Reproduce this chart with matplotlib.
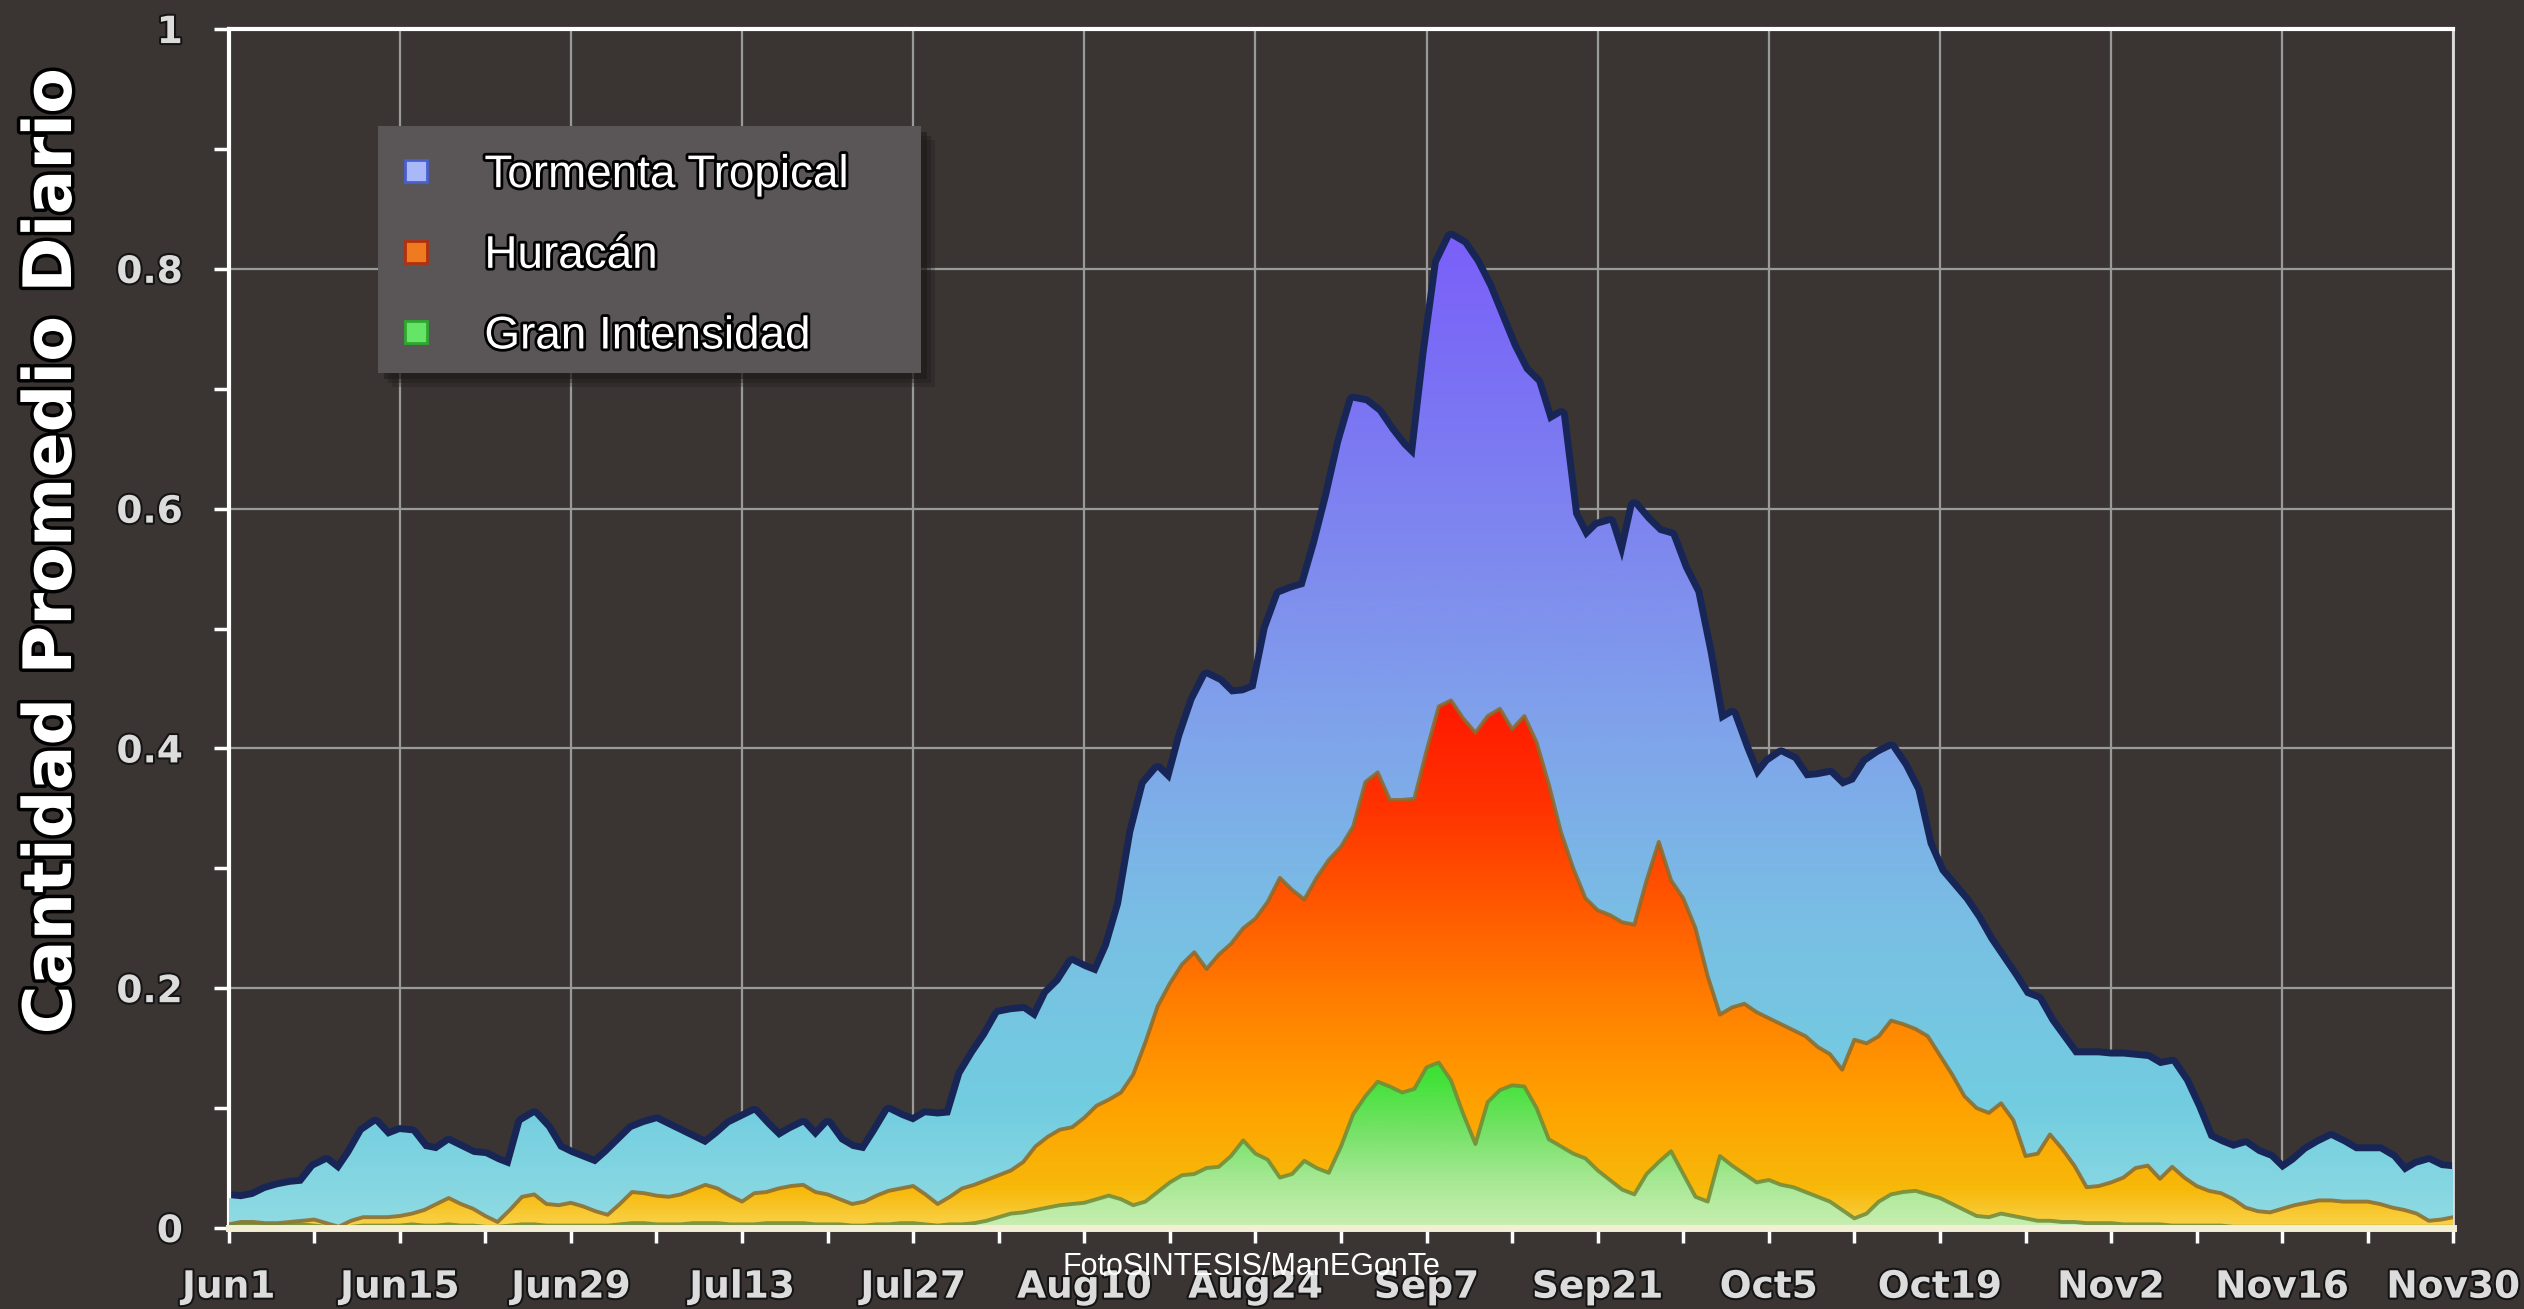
import numpy as np
import matplotlib
matplotlib.use('Agg')
import matplotlib.pyplot as plt
from matplotlib import font_manager
from matplotlib import patheffects as pe
from matplotlib.colors import LinearSegmentedColormap
from matplotlib.lines import Line2D
from matplotlib.patches import Rectangle

# daily average counts, Jun 1 (day 0) .. Nov 30 (day 182)
total = [
    0.025, 0.024, 0.026, 0.031, 0.034, 0.036, 0.037, 0.050, 0.055, 0.047,
    0.062, 0.080, 0.087, 0.076, 0.080, 0.079, 0.066, 0.064, 0.071, 0.066,
    0.061, 0.060, 0.055, 0.051, 0.088, 0.094, 0.083, 0.066, 0.061, 0.057,
    0.053, 0.062, 0.072, 0.082, 0.086, 0.089, 0.084, 0.079, 0.074, 0.069,
    0.077, 0.086, 0.091, 0.096, 0.085, 0.075, 0.081, 0.086, 0.075, 0.086,
    0.072, 0.066, 0.064, 0.080, 0.097, 0.092, 0.088, 0.094, 0.093, 0.094,
    0.128, 0.145, 0.160, 0.178, 0.180, 0.181, 0.174, 0.195, 0.205, 0.221,
    0.216, 0.212, 0.235, 0.270, 0.330, 0.370, 0.382, 0.372, 0.410, 0.440,
    0.460, 0.455, 0.445, 0.446, 0.450, 0.500, 0.528, 0.532, 0.535, 0.570,
    0.610, 0.655, 0.690, 0.688, 0.680, 0.665, 0.652, 0.642, 0.730, 0.805,
    0.826, 0.820, 0.805, 0.785, 0.760, 0.735, 0.715, 0.705, 0.672, 0.678,
    0.595, 0.575, 0.585, 0.588, 0.556, 0.602, 0.590, 0.580, 0.577, 0.550,
    0.530, 0.480, 0.422, 0.428, 0.400, 0.375, 0.388, 0.395, 0.390, 0.375,
    0.376, 0.378, 0.368, 0.372, 0.388, 0.395, 0.400, 0.385, 0.365, 0.320,
    0.297, 0.285, 0.273, 0.258, 0.240, 0.225, 0.210, 0.194, 0.190, 0.172,
    0.158, 0.144, 0.144, 0.144, 0.143, 0.143, 0.142, 0.141, 0.135, 0.137,
    0.122, 0.100, 0.075, 0.070, 0.066, 0.069, 0.062, 0.058, 0.048, 0.055,
    0.064, 0.070, 0.075, 0.070, 0.064, 0.064, 0.064, 0.058, 0.046, 0.052,
    0.055, 0.050, 0.049]

huracan = [
    0.003, 0.005, 0.005, 0.004, 0.004, 0.005, 0.006, 0.007, 0.004, 0.001,
    0.006, 0.009, 0.009, 0.009, 0.010, 0.012, 0.015, 0.020, 0.025, 0.020,
    0.016, 0.010, 0.005, 0.015, 0.026, 0.028, 0.020, 0.019, 0.021, 0.018,
    0.014, 0.011, 0.020, 0.030, 0.029, 0.027, 0.026, 0.028, 0.032, 0.036,
    0.033, 0.027, 0.022, 0.029, 0.030, 0.033, 0.035, 0.036, 0.030, 0.028,
    0.024, 0.020, 0.022, 0.027, 0.031, 0.033, 0.035, 0.028, 0.020, 0.026,
    0.033, 0.036, 0.040, 0.044, 0.048, 0.055, 0.068, 0.076, 0.082, 0.084,
    0.092, 0.102, 0.107, 0.113, 0.128, 0.155, 0.185, 0.204, 0.220, 0.230,
    0.216, 0.228, 0.237, 0.250, 0.258, 0.272, 0.292, 0.282, 0.274, 0.292,
    0.307, 0.318, 0.335, 0.372, 0.380, 0.357, 0.357, 0.358, 0.398, 0.435,
    0.440, 0.425, 0.413, 0.427, 0.433, 0.416, 0.427, 0.405, 0.370, 0.330,
    0.300, 0.275, 0.265, 0.261, 0.255, 0.253, 0.290, 0.322, 0.290, 0.275,
    0.250, 0.210, 0.178, 0.184, 0.187, 0.180, 0.175, 0.170, 0.165, 0.160,
    0.151, 0.145, 0.132, 0.157, 0.154, 0.160, 0.173, 0.170, 0.166, 0.160,
    0.144, 0.128, 0.110, 0.100, 0.096, 0.104, 0.090, 0.060, 0.062, 0.078,
    0.066, 0.052, 0.034, 0.035, 0.038, 0.042, 0.050, 0.052, 0.041, 0.051,
    0.042, 0.035, 0.031, 0.029, 0.024, 0.017, 0.014, 0.013, 0.016, 0.019,
    0.021, 0.023, 0.023, 0.022, 0.022, 0.022, 0.020, 0.017, 0.015, 0.012,
    0.006, 0.007, 0.009]

gran = [
    0.002, 0.003, 0.003, 0.002, 0.002, 0.003, 0.003, 0.002, 0.001, 0.000,
    0.001, 0.002, 0.002, 0.002, 0.002, 0.003, 0.002, 0.002, 0.003, 0.002,
    0.002, 0.001, 0.001, 0.002, 0.003, 0.003, 0.002, 0.002, 0.002, 0.002,
    0.002, 0.002, 0.003, 0.004, 0.004, 0.003, 0.003, 0.003, 0.004, 0.004,
    0.004, 0.003, 0.003, 0.003, 0.004, 0.004, 0.004, 0.004, 0.003, 0.003,
    0.003, 0.002, 0.002, 0.003, 0.003, 0.004, 0.004, 0.003, 0.002, 0.003,
    0.003, 0.004, 0.006, 0.009, 0.012, 0.013, 0.015, 0.017, 0.019, 0.020,
    0.021, 0.024, 0.027, 0.024, 0.019, 0.022, 0.030, 0.038, 0.044, 0.045,
    0.050, 0.051, 0.060, 0.073, 0.062, 0.057, 0.042, 0.045, 0.056, 0.050,
    0.046, 0.068, 0.095, 0.110, 0.122, 0.118, 0.113, 0.116, 0.134, 0.138,
    0.123, 0.095, 0.070, 0.105, 0.115, 0.119, 0.118, 0.100, 0.074, 0.068,
    0.062, 0.058, 0.048, 0.040, 0.032, 0.028, 0.045, 0.055, 0.064, 0.045,
    0.026, 0.022, 0.060, 0.052, 0.045, 0.038, 0.040, 0.036, 0.034, 0.030,
    0.026, 0.022, 0.015, 0.008, 0.012, 0.022, 0.028, 0.030, 0.031, 0.028,
    0.025, 0.020, 0.015, 0.010, 0.009, 0.012, 0.010, 0.008, 0.006, 0.006,
    0.005, 0.005, 0.004, 0.004, 0.004, 0.003, 0.003, 0.003, 0.003, 0.002,
    0.002, 0.002, 0.002, 0.002, 0.001, 0.001, 0.001, 0.001, 0.001, 0.001,
    0.001, 0.001, 0.001, 0.001, 0.001, 0.001, 0.001, 0.001, 0.001, 0.001,
    0.001, 0.001, 0.001]

fechas = ['Jun1', 'Jun15', 'Jun29', 'Jul13', 'Jul27', 'Aug10', 'Aug24',
          'Sep7', 'Sep21', 'Oct5', 'Oct19', 'Nov2', 'Nov16', 'Nov30']
y_labels = ['0', '0.2', '0.4', '0.6', '0.8', '1']
series_names = ['Tormenta Tropical', 'Huracán', 'Gran Intensidad']

names = {f.name for f in font_manager.fontManager.ttflist}
narrow = 'Liberation Sans Narrow' if 'Liberation Sans Narrow' in names else 'Liberation Sans'
leg_size = 38 if narrow == 'Liberation Sans Narrow' else 33

bg = '#3a3533'
fig = plt.figure(figsize=(25.24, 13.09), dpi=100, facecolor=bg)
ax = fig.add_axes([0.0906, 0.0619, 0.8814, 0.9159])
ax.set_facecolor(bg)

days = np.arange(len(total))
last = days[-1]


def gradient_area(y, stops, z):
    # area under y filled with a vertical gradient (colour depends on height)
    poly = ax.fill_between(days, 0, y, facecolor='none', edgecolor='none', zorder=z)
    cmap = LinearSegmentedColormap.from_list('g', stops)
    grad = np.linspace(0, 1, 512).reshape(-1, 1)
    im = ax.imshow(grad, extent=[0, last, 0, 1], origin='lower', aspect='auto',
                   cmap=cmap, zorder=z, interpolation='bilinear')
    im.set_clip_path(poly.get_paths()[0], transform=ax.transData)


blue_stops = [(0, '#8fdbe2'), (0.1, '#72cde0'), (0.25, '#79bfe4'), (0.4, '#7fa6ea'),
              (0.55, '#7f8bee'), (0.7, '#7b72f4'), (0.85, '#7a5cfa'), (1, '#7850ff')]
orange_stops = [(0, '#f9d24a'), (0.03, '#f7b90a'), (0.1, '#ffa200'), (0.18, '#ff8200'),
                (0.26, '#ff5c00'), (0.35, '#ff3300'), (0.44, '#ff1800'), (1, '#ff0000')]
green_stops = [(0, '#c8eeb0'), (0.04, '#a4e892'), (0.08, '#74e266'), (0.12, '#45e23c'),
               (0.15, '#33e030'), (1, '#20e020')]

ax.plot(days, total, color='#172656', lw=10, zorder=2, solid_joinstyle='round')
gradient_area(total, blue_stops, 3)
gradient_area(huracan, orange_stops, 4)
ax.plot(days, huracan, color='#8a6a2c', lw=2.8, alpha=0.85, zorder=5)
gradient_area(gran, green_stops, 6)
ax.plot(days, gran, color='#6f8a38', lw=2.8, alpha=0.85, zorder=7)

ax.axhline(0, color='#f3efd6', lw=5, zorder=10, clip_on=False)

ax.set_xlim(0, last)
ax.set_ylim(0, 1)
ax.set_axisbelow(True)
ax.grid(True, which='major', color='#9a9a9a', lw=1.6)

ax.set_xticks(days[::14])
ax.set_xticks(days[::7], minor=True)
ax.set_xticklabels(fechas)
ax.set_yticks(np.arange(0, 1.01, 0.2))
ax.set_yticks(np.arange(0, 1.01, 0.1), minor=True)
ax.set_yticklabels(y_labels)

ax.tick_params(axis='x', which='both', direction='out', length=11, width=2.5,
               color='white', pad=19, labelsize=27, labelcolor='#dcdcdc')
ax.tick_params(axis='y', which='both', direction='out', length=11, width=2.5,
               color='white', pad=22, labelsize=27, labelcolor='#dcdcdc')
for lab in ax.get_xticklabels() + ax.get_yticklabels():
    lab.set_fontweight('bold')
    lab.set_path_effects([pe.withStroke(linewidth=3, foreground='#151515')])

for side in ['left', 'top']:
    ax.spines[side].set_color('white')
    ax.spines[side].set_linewidth(3)
ax.spines['right'].set_color('#dddddd')
ax.spines['right'].set_linewidth(2)
ax.spines['bottom'].set_visible(False)

fig.text(0.0206, 0.579, 'Cantidad Promedio Diario', rotation=90, ha='center', va='center',
         fontsize=48, fontweight='bold', color='white',
         path_effects=[pe.withStroke(linewidth=5, foreground='black')])

# legend panel with a soft drop shadow
box = (0.1498, 0.715, 0.2151, 0.1887)
for k, a in [(14, 0.25), (10, 0.35), (6, 0.5)]:
    fig.patches.append(Rectangle((box[0] + k / 2524, box[1] - k / 1309), box[2], box[3],
                                 transform=fig.transFigure, facecolor='#1c1918',
                                 edgecolor='none', alpha=a, zorder=18))
fig.patches.append(Rectangle(box[:2], box[2], box[3], transform=fig.transFigure,
                             facecolor='#5a5556', edgecolor='none', zorder=19))

handles = [
    Line2D([], [], marker='s', ls='none', markersize=16, markerfacecolor='#a8b8f8', markeredgecolor='#4a5fd0', markeredgewidth=2),
    Line2D([], [], marker='s', ls='none', markersize=16, markerfacecolor='#f07a20', markeredgecolor='#b03010', markeredgewidth=2),
    Line2D([], [], marker='s', ls='none', markersize=16, markerfacecolor='#66e466', markeredgecolor='#2fa82f', markeredgewidth=2),
]
leg = fig.legend(handles, series_names, loc='upper left', bbox_to_anchor=(0.1565, 0.883),
                 bbox_transform=fig.transFigure, borderaxespad=0, frameon=False,
                 prop={'family': narrow, 'size': leg_size}, labelcolor='white',
                 handletextpad=1.05, borderpad=0, labelspacing=0.8, handlelength=0.9)
for t in leg.get_texts():
    t.set_path_effects([pe.withStroke(linewidth=4, foreground='black')])
leg.set_zorder(20)

fig.text(0.496, 0.032, 'FotoSINTESIS/ManEGonTe', ha='center', va='center',
         color='white', fontsize=22, family=narrow, zorder=30)

fig.savefig('out.png', dpi=100, facecolor=bg)
